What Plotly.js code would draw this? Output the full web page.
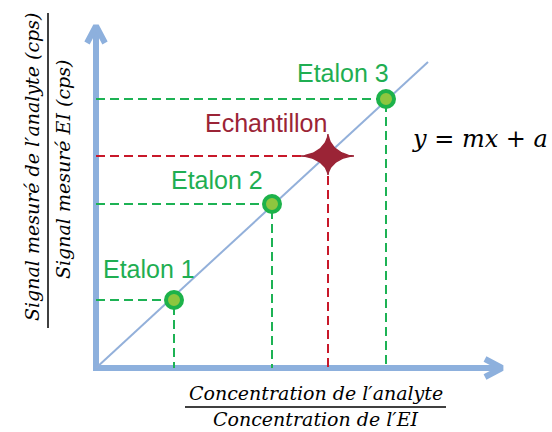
<!DOCTYPE html>
<html>
<head>
<meta charset="utf-8">
<script src="https://cdn.plot.ly/plotly-3.0.1.min.js"></script>
<style>html,body{margin:0;padding:0;background:#fff;}#chart{width:552px;height:432px;}</style>
</head>
<body>
<div id="chart"></div>
<script>
// ---- data (arbitrary units) ----
const etalonNames = ["Etalon 1", "Etalon 2", "Etalon 3"];
const etalonX = [0.78, 1.76, 2.90];
const etalonY = [0.68, 1.64, 2.69];
const sampleName = "Echantillon";
const sampleX = [2.32];
const sampleY = [2.12];
const fitX = [0.0, 3.32];
const fitY = [0.0, 3.06];
const axisMaxX = 4.06;
const axisMaxY = 3.42;
const equationText = "<i>y</i> = <i>mx</i> + <i>a</i>";
const xTitleNum = "Concentration de l′analyte";
const xTitleDen = "Concentration de l′EI";
const yTitleNum = "Signal mesuré de l′analyte (cps)";
const yTitleDen = "Signal mesuré EI (cps)";

// ---- styling ----
const W = 552, H = 432;
const M = {l: 76, r: 36, t: 8, b: 44};
const xr = [-0.2, 4.2], yr = [-0.2, 3.6];
const pw = W - M.l - M.r, ph = H - M.t - M.b;
const px2paperX = p => (p - M.l) / pw;
const px2paperY = p => (H - M.b - p) / ph;
const unitX = (xr[1] - xr[0]) / pw; // data units per pixel
const unitY = (yr[1] - yr[0]) / ph;

const axisColor = "#8db0dd";
const fitColor = "#93b0da";
const green = "#1fae52";
const greenDash = "#1db254";
const lightGreen = "#8dc63f";
const redDash = "#c8182a";
const starColor = "#9b2436";
const labelFont = {family: "Liberation Sans, Arial, sans-serif", size: 25};
const mathFont = {family: "DejaVu Serif, serif", size: 19, color: "#000"};

const traces = [];

// axes with arrowheads
const armBack = 17, armSide = 9;
traces.push({x: [-3 * unitX, axisMaxX], y: [0, 0], mode: "lines", line: {color: axisColor, width: 6}, hoverinfo: "skip"});
traces.push({x: [axisMaxX - armBack * unitX, axisMaxX, axisMaxX - armBack * unitX], y: [armSide * unitY, 0, -armSide * unitY], mode: "lines", line: {color: axisColor, width: 6}, hoverinfo: "skip"});
traces.push({x: [0, 0], y: [-3 * unitY, axisMaxY], mode: "lines", line: {color: axisColor, width: 6}, hoverinfo: "skip"});
traces.push({x: [-armSide * unitX, 0, armSide * unitX], y: [axisMaxY - armBack * unitY, axisMaxY, axisMaxY - armBack * unitY], mode: "lines", line: {color: axisColor, width: 6}, hoverinfo: "skip"});

// dashed projection lines for standards
etalonX.forEach((xv, i) => {
  traces.push({x: [0, xv, xv], y: [etalonY[i], etalonY[i], 0], mode: "lines", line: {color: greenDash, width: 2, dash: "9px,5px"}, hoverinfo: "skip"});
});
// dashed projection for sample
traces.push({x: [0, sampleX[0], sampleX[0]], y: [sampleY[0], sampleY[0], 0], mode: "lines", line: {color: redDash, width: 2, dash: "9px,5px"}, hoverinfo: "skip"});

// calibration line
traces.push({x: fitX, y: fitY, mode: "lines", line: {color: fitColor, width: 2}, hoverinfo: "skip"});

// standards markers
traces.push({x: etalonX, y: etalonY, mode: "markers", marker: {size: 16, color: lightGreen, line: {color: "#1db24a", width: 4}}, hoverinfo: "skip", cliponaxis: false});

// 4-pointed star for sample (astroid-like), built around the sample value
(function () {
  const rl = 27, rr = 26, rt = 22, rb = 19, p = 3.4, n = 160;
  const sx = [], sy = [];
  for (let k = 0; k <= n; k++) {
    const t = 2 * Math.PI * k / n;
    const c = Math.cos(t), s = Math.sin(t);
    const rx = c >= 0 ? rr : rl, ry = s >= 0 ? rt : rb;
    sx.push(sampleX[0] + Math.sign(c) * Math.pow(Math.abs(c), p) * rx * unitX);
    sy.push(sampleY[0] + Math.sign(s) * Math.pow(Math.abs(s), p) * ry * unitY);
  }
  traces.push({x: sx, y: sy, mode: "lines", fill: "toself", fillcolor: starColor, line: {color: starColor, width: 1.5}, hoverinfo: "skip"});
})();

// labels
const etalonLabelShift = [[-25, 31], [-55, 24], [-43, 26]];
const annotations = [];
etalonNames.forEach((nm, i) => {
  annotations.push({x: etalonX[i], y: etalonY[i], xref: "x", yref: "y", text: nm, showarrow: false,
    xshift: etalonLabelShift[i][0], yshift: etalonLabelShift[i][1], xanchor: "center", yanchor: "middle",
    font: Object.assign({}, labelFont, {color: green})});
});
annotations.push({x: sampleX[0], y: sampleY[0], xref: "x", yref: "y", text: sampleName, showarrow: false,
  xshift: -62, yshift: 33, xanchor: "center", yanchor: "middle", font: Object.assign({}, labelFont, {color: starColor})});

// equation
annotations.push({x: px2paperX(480), y: px2paperY(139), xref: "paper", yref: "paper", text: equationText, showarrow: false,
  xanchor: "center", yanchor: "middle", font: {family: "DejaVu Serif, serif", size: 24, color: "#000"}});

// axis titles as fractions
annotations.push({x: px2paperX(316), y: px2paperY(393), xref: "paper", yref: "paper", text: "<i>" + xTitleNum + "</i>", showarrow: false, xanchor: "center", yanchor: "middle", font: mathFont});
annotations.push({x: px2paperX(316), y: px2paperY(419), xref: "paper", yref: "paper", text: "<i>" + xTitleDen + "</i>", showarrow: false, xanchor: "center", yanchor: "middle", font: mathFont});
annotations.push({x: px2paperX(32), y: px2paperY(167), xref: "paper", yref: "paper", text: "<i>" + yTitleNum + "</i>", showarrow: false, textangle: -90, xanchor: "center", yanchor: "middle", font: mathFont});
annotations.push({x: px2paperX(63), y: px2paperY(170), xref: "paper", yref: "paper", text: "<i>" + yTitleDen + "</i>", showarrow: false, textangle: -90, xanchor: "center", yanchor: "middle", font: mathFont});

const shapes = [
  {type: "line", xref: "paper", yref: "paper", x0: px2paperX(185), x1: px2paperX(446), y0: px2paperY(407), y1: px2paperY(407), line: {color: "#000", width: 1.5}},
  {type: "line", xref: "paper", yref: "paper", x0: px2paperX(48), x1: px2paperX(48), y0: px2paperY(13), y1: px2paperY(328), line: {color: "#000", width: 1.5}}
];

const hiddenAxis = {showgrid: false, zeroline: false, showticklabels: false, showline: false, ticks: "", fixedrange: true};
const layout = {
  width: W, height: H, autosize: false,
  margin: M,
  paper_bgcolor: "#fff", plot_bgcolor: "#fff",
  showlegend: false,
  xaxis: Object.assign({}, hiddenAxis, {range: xr}),
  yaxis: Object.assign({}, hiddenAxis, {range: yr}),
  annotations: annotations,
  shapes: shapes
};

Plotly.newPlot("chart", traces, layout, {displayModeBar: false, staticPlot: true});
</script>
</body>
</html>
